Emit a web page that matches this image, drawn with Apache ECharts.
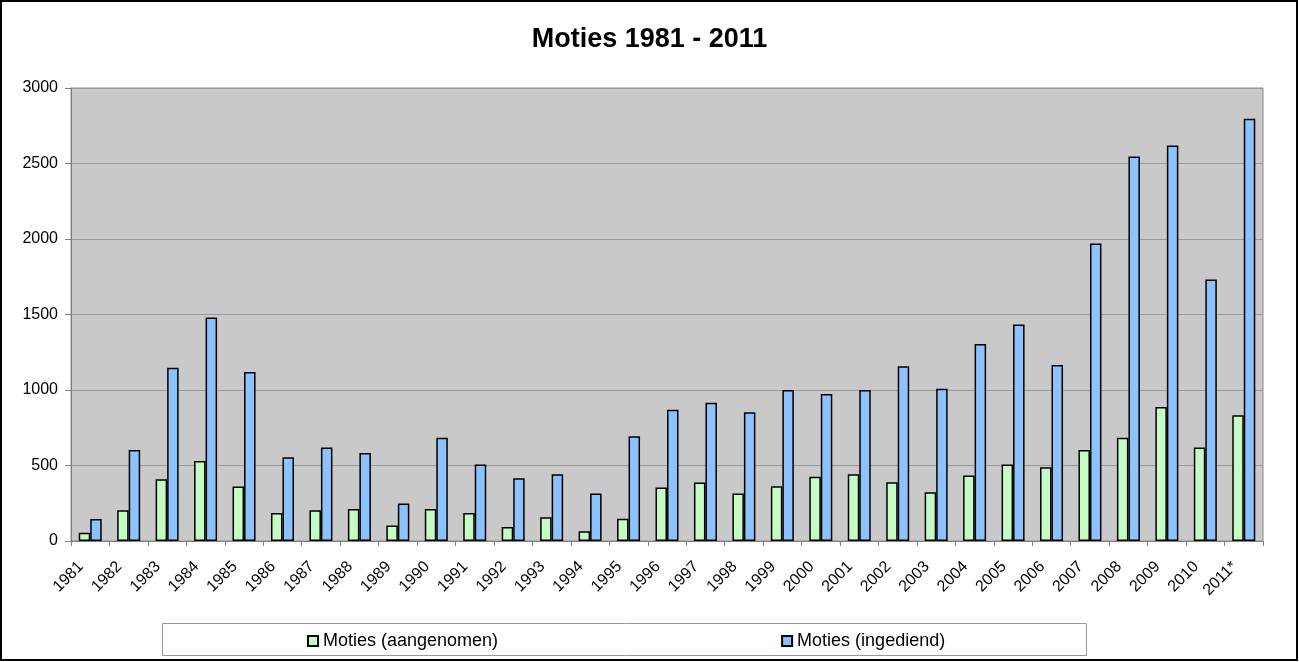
<!DOCTYPE html>
<html>
<head>
<meta charset="utf-8">
<script src="https://cdn.jsdelivr.net/npm/echarts@6/dist/echarts.min.js"></script>
<style>
html,body{margin:0;padding:0;background:#fff;}
#chart{width:1299px;height:662px;}
</style>
</head>
<body>
<div id="chart"></div>
<script>
const years = ['1981','1982','1983','1984','1985','1986','1987','1988','1989','1990','1991','1992','1993','1994','1995','1996','1997','1998','1999','2000','2001','2002','2003','2004','2005','2006','2007','2008','2009','2010','2011*'];
const aangenomen = [55,203,409,529,361,186,203,212,102,212,186,93,157,64,148,354,387,314,363,425,442,389,323,434,507,489,602,684,887,619,832];
const ingediend = [146,602,1148,1480,1119,555,619,582,248,684,507,416,442,314,694,869,916,852,1000,973,1000,1157,1009,1305,1434,1166,1971,2546,2619,1732,2796];
const yTicks = {min:0, max:3000, interval:500};

const FONT = '"Liberation Sans", Arial, sans-serif';
const chart = echarts.init(document.getElementById('chart'), null, {renderer:'canvas'});
chart.setOption({
  backgroundColor:'#ffffff',
  animation:false,
  title:{
    text:'Moties 1981 - 2011',
    left:'center', top:21,
    textStyle:{fontFamily:FONT, fontSize:27, fontWeight:'bold', color:'#000'}
  },
  graphic:[
    {type:'rect', silent:true, z:-10, shape:{x:1,y:1,width:1296,height:659}, style:{fill:'none', stroke:'#000', lineWidth:2}},
    {type:'rect', silent:true, z:-10, shape:{x:162.5,y:623.5,width:924,height:32}, style:{fill:'#fff', stroke:'#999', lineWidth:1}}
  ],
  legend:{
    left:302, top:627,
    itemGap:283, itemWidth:10, itemHeight:10,
    icon:'rect',
    textStyle:{fontFamily:FONT, fontSize:18, color:'#000'},
    data:['Moties (aangenomen)','Moties (ingediend)']
  },
  grid:{left:71, right:36, top:88, bottom:121, show:true, backgroundColor:'#c9c9c9', borderColor:'#8c8c8c', borderWidth:1},
  xAxis:{
    type:'category',
    data:years,
    boundaryGap:true,
    axisLine:{lineStyle:{color:'#808080', width:1}},
    axisTick:{show:true, alignWithLabel:false, length:5, lineStyle:{color:'#808080'}},
    axisLabel:{interval:0, rotate:45, margin:14, padding:[0,13,0,0], fontFamily:FONT, fontSize:16, color:'#000'}
  },
  yAxis:{
    type:'value',
    min:yTicks.min, max:yTicks.max, interval:yTicks.interval,
    axisLine:{show:true, lineStyle:{color:'#808080', width:1}},
    axisTick:{show:true, length:6, lineStyle:{color:'#808080'}},
    splitLine:{lineStyle:{color:'#9a9a9a', width:1}},
    axisLabel:{margin:13, fontFamily:FONT, fontSize:16, color:'#000', formatter:function(v){return String(v);}}
  },
  series:[
    {name:'Moties (aangenomen)', type:'bar', data:aangenomen, barWidth:11.5, barGap:'0%',
     itemStyle:{color:'#c4fcc4', borderColor:'#000', borderWidth:1.5}},
    {name:'Moties (ingediend)', type:'bar', data:ingediend, barWidth:11.5, barGap:'0%',
     itemStyle:{color:'#8cc3ff', borderColor:'#000', borderWidth:1.5}}
  ]
});
</script>
</body>
</html>
